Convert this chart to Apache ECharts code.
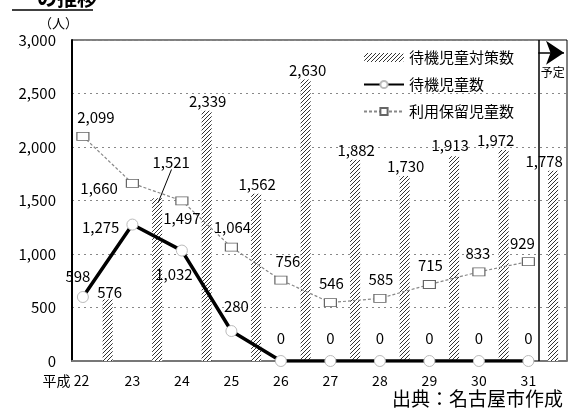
<!DOCTYPE html>
<html>
<head>
<meta charset="utf-8">
<script src="https://cdn.jsdelivr.net/npm/echarts@6/dist/echarts.min.js"></script>
<style>
html,body{margin:0;padding:0;background:#fff;}
#c{width:572px;height:414px;}
</style>
</head>
<body>
<div id="c"></div>
<script>
// ---- data ----
const years = [22, 23, 24, 25, 26, 27, 28, 29, 30, 31];
const waiting = [598, 1275, 1032, 280, 0, 0, 0, 0, 0, 0];          // 待機児童数
const reserved = [2099, 1660, 1497, 1064, 756, 546, 585, 715, 833, 929]; // 利用保留児童数
const measures = [576, 1521, 2339, 1562, 2630, 1882, 1730, 1913, 1972, 1778]; // 待機児童対策数 (fiscal year, last = 予定)
const yTicks = [0, 500, 1000, 1500, 2000, 2500, 3000];

const FONT = '"Noto Sans CJK JP", "Noto Sans", sans-serif';
const LBL = 15;

// hatch pattern
function hatch() {
  const c = document.createElement('canvas');
  c.width = 4; c.height = 4;
  const g = c.getContext('2d');
  g.fillStyle = '#fff'; g.fillRect(0, 0, 4, 4);
  g.strokeStyle = '#333'; g.lineWidth = 1;
  g.beginPath();
  g.moveTo(0, 4); g.lineTo(4, 0);
  g.moveTo(-1, 1); g.lineTo(1, -1);
  g.moveTo(3, 5); g.lineTo(5, 3);
  g.stroke();
  return c;
}
const hatchFill = { image: hatch(), repeat: 'repeat' };

// label placement styles (not data)
const waitLbl = [
  { position: 'top', offset: [-5, -2] },
  { position: 'left', offset: [-2, 3] },
  { position: 'bottom', offset: [-8, 5] },
  { position: 'top', offset: [5, -6] },
  { position: 'top', offset: [0, -4] },
  { position: 'top', offset: [0, -4] },
  { position: 'top', offset: [0, -4] },
  { position: 'top', offset: [0, -4] },
  { position: 'top', offset: [0, -4] },
  { position: 'top', offset: [0, -4] }
];
const resLbl = [
  { position: 'top', offset: [13, -2] },
  { position: 'left', offset: [-3, 5] },
  { position: 'bottom', offset: [0, 1] },
  { position: 'top', offset: [1, -3] },
  { position: 'top', offset: [7, -2] },
  { position: 'top', offset: [1, -2] },
  { position: 'top', offset: [1, -2] },
  { position: 'top', offset: [1, -2] },
  { position: 'top', offset: [-1, -2] },
  { position: 'top', offset: [-6, -1] }
];
const barLbl = [
  { offset: [2, 2] },
  { offset: [14, -26] },
  { offset: [1, 0] },
  { offset: [1, 0] },
  { offset: [2, 0] },
  { offset: [1, 0] },
  { offset: [1, 0] },
  { offset: [-4, -2] },
  { offset: [-8, 0] },
  { offset: [-9, 0] }
];

const fmt = v => v.toLocaleString('en-US');

const chart = echarts.init(document.getElementById('c'), null, { renderer: 'canvas' });

chart.setOption({
  animation: false,
  backgroundColor: '#fff',
  textStyle: { fontFamily: FONT },
  title: [
    { text: 'の推移', left: 32, top: -17, textStyle: { fontSize: 20, fontWeight: 'bold', color: '#000', fontFamily: FONT } },
    { text: '出典：名古屋市作成', right: 4, bottom: 1, textStyle: { fontSize: 19, fontWeight: 'normal', color: '#000', fontFamily: FONT } }
  ],
  graphic: [
    { type: 'line', shape: { x1: 12, y1: 10, x2: 93, y2: 10 }, style: { stroke: '#000', lineWidth: 1.5 } }
  ],
  legend: {
    orient: 'vertical',
    left: 358,
    top: 45,
    itemWidth: 40,
    itemHeight: 9,
    itemGap: 12,
    textStyle: { fontSize: 15, color: '#000', fontFamily: FONT },
    data: ['待機児童対策数', '待機児童数', '利用保留児童数']
  },
  grid: {
    left: 72, right: 5, top: 40, bottom: 53,
    show: true, borderColor: '#000', borderWidth: 1, backgroundColor: 'transparent'
  },
  xAxis: {
    type: 'value',
    min: 21.78,
    max: 31.78,
    splitLine: { show: false },
    axisLine: { show: true, lineStyle: { color: '#777', width: 2 } },
    axisTick: { show: false },
    axisLabel: {
      customValues: years,
      margin: 13,
      fontSize: 14,
      color: '#000',
      fontFamily: FONT,
      formatter: v => v === years[0] ? '{p|平成 ' + v + '}{s|}' : String(v),
      rich: { p: { fontSize: 14, fontFamily: FONT, color: '#000' }, s: { width: 34 } }
    }
  },
  yAxis: {
    type: 'value',
    min: 0,
    max: 3000,
    interval: 500,
    name: '（人）',
    nameLocation: 'end',
    nameGap: 10,
    nameTextStyle: { fontSize: 13, color: '#000', align: 'right', padding: [0, -6, 0, 0], fontFamily: FONT },
    axisLine: { show: true, lineStyle: { color: '#000', width: 2 } },
    axisTick: { show: false },
    axisLabel: {
      customValues: yTicks,
      fontSize: 15, color: '#000', margin: 16, fontFamily: FONT,
      formatter: v => fmt(v)
    },
    splitLine: { show: true, lineStyle: { color: '#888', type: [2, 4], width: 1 } }
  },
  series: [
    {
      name: '待機児童対策数',
      type: 'bar',
      barWidth: 10,
      z: 2,
      itemStyle: { color: hatchFill },
      label: {
        show: true, position: 'top', distance: 2,
        fontSize: LBL, color: '#000', fontFamily: FONT,
        formatter: p => fmt(p.value[1])
      },
      data: measures.map((v, i) => ({
        value: [years[i] + 0.5, v],
        label: { offset: barLbl[i].offset }
      })),
      markLine: {
        silent: true,
        symbol: 'none',
        label: { show: false },
        lineStyle: { color: '#000', type: 'solid', width: 1.5 },
        data: [
          { xAxis: 31.2 },
          // leader line from the 1,521 label down to its bar
          [{ coord: [years[1] + 0.79, 1790], lineStyle: { width: 1 } }, { coord: [years[1] + 0.52, 1480], lineStyle: { width: 1 } }]
        ]
      },
      markPoint: {
        symbol: 'rect', symbolSize: 1,
        itemStyle: { color: 'rgba(0,0,0,0)' },
        label: { show: true, position: 'inside', formatter: '予定', fontSize: 12, color: '#000', fontFamily: FONT },
        data: [{ coord: [31.49, 2700] }]
      }
    },
    {
      name: '待機児童数',
      type: 'line',
      z: 4,
      symbol: 'circle',
      symbolSize: 11,
      lineStyle: { color: '#000', width: 3.5 },
      itemStyle: { color: '#fff', borderColor: '#bbb', borderWidth: 1 },
      label: { show: true, fontSize: LBL, color: '#000', fontFamily: FONT, formatter: p => fmt(p.value[1]) },
      data: waiting.map((v, i) => ({ value: [years[i], v], label: waitLbl[i] })),
      markLine: {
        silent: true,
        symbol: ['none', 'arrow'],
        symbolSize: 18,
        label: { show: false },
        lineStyle: { color: '#000', type: 'solid', width: 1.5 },
        data: [[{ coord: [31.2, 2880] }, { coord: [31.72, 2880] }]]
      }
    },
    {
      name: '利用保留児童数',
      type: 'line',
      z: 3,
      symbol: 'rect',
      symbolSize: [12, 8],
      lineStyle: { color: '#888', width: 1.2, type: [3, 2] },
      itemStyle: { color: '#fff', borderColor: '#666', borderWidth: 1 },
      label: { show: true, fontSize: LBL, color: '#000', fontFamily: FONT, formatter: p => fmt(p.value[1]) },
      data: reserved.map((v, i) => ({ value: [years[i], v], label: resLbl[i] }))
    }
  ]
});
</script>
</body>
</html>
